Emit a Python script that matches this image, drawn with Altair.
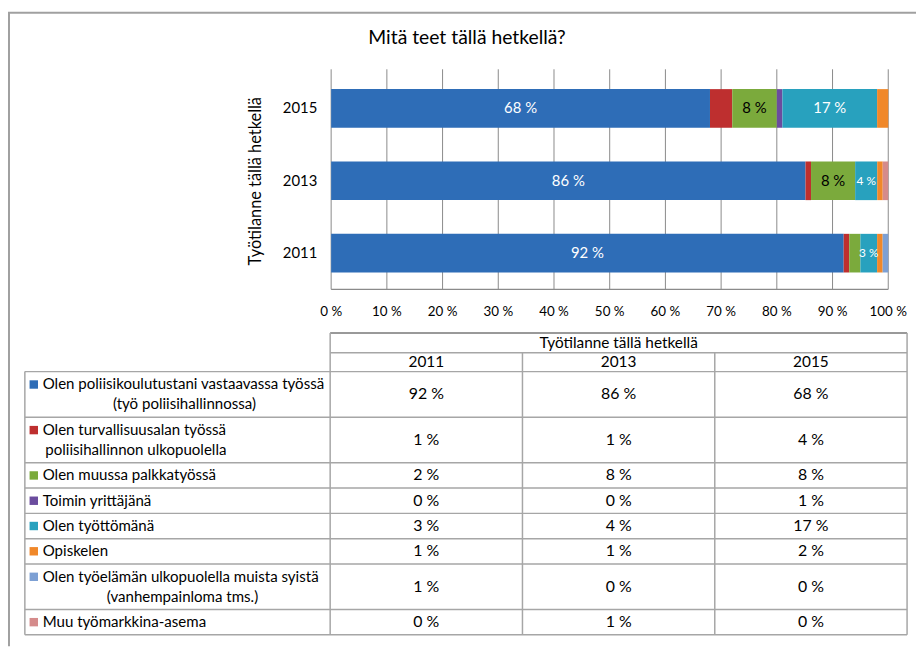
import altair as alt
import pandas as pd

# ---------------- data ----------------
TITLE = "Mitä teet tällä hetkellä?"
AXIS_TITLE = "Työtilanne tällä hetkellä"
YEARS = ["2011", "2013", "2015"]
BAR_ORDER = ["2015", "2013", "2011"]
CATEGORY_LINES = [
    ["Olen poliisikoulutustani vastaavassa työssä", "(työ poliisihallinnossa)"],
    ["Olen turvallisuusalan työssä", "poliisihallinnon ulkopuolella"],
    ["Olen muussa palkkatyössä"],
    ["Toimin yrittäjänä"],
    ["Olen työttömänä"],
    ["Opiskelen"],
    ["Olen työelämän ulkopuolella muista syistä", "(vanhempainloma tms.)"],
    ["Muu työmarkkina-asema"],
]
VALUES_2011 = [92, 1, 2, 0, 3, 1, 1, 0]
VALUES_2013 = [86, 1, 8, 0, 4, 1, 0, 1]
VALUES_2015 = [68, 4, 8, 1, 17, 2, 0, 0]
COLORS = ["#2E6DB7", "#BE2F2F", "#7BAA3C", "#6B4C9E",
          "#28A1BE", "#F0882A", "#7DA0D4", "#D58B8B"]
X_TICKS = [0, 0.1, 0.2, 0.3, 0.4, 0.5, 0.6, 0.7, 0.8, 0.9, 1.0]
X_TICK_LABELS = ["0 %", "10 %", "20 %", "30 %", "40 %", "50 %",
                 "60 %", "70 %", "80 %", "90 %", "100 %"]
LABEL_TEXT_COLOR = {0: "white", 2: "black", 4: "white"}
MIN_LABEL = 3

# ---------------- layout (view pixels = page - 8) ----------------
FONT = "Lato"
W, H = 916, 641


def v(p):
    return p - 8


BAR_X = [v(334), v(896)]
BAR_Y = [v(70), v(289)]
GRID_Y = [v(67), v(289)]
COL_EDGES = [v(25), v(333), v(527), v(721), v(915)]
HEAD_Y = [v(333), v(353), v(372)]
ROW_H = {1: 25.5, 2: 46}
LINE_GAP = 20
TEXT_LEFT = v(43)
SQUARE_X = v(34)
SECOND_LINE_CENTER = {0: v(186), 1: v(137), 6: v(184)}
GRID_COLOR = "#8a8a8a"
TABLE_COLOR = "#a6a6a6"

xs = alt.Scale(domain=[0, 1], range=BAR_X)
ys = alt.Scale(domain=BAR_ORDER, range=BAR_Y, paddingInner=0.466, paddingOuter=0.233)

# ---------------- bars ----------------
series = {"2011": VALUES_2011, "2013": VALUES_2013, "2015": VALUES_2015}
rows = []
for year in YEARS:
    vals = series[year]
    total = float(sum(vals))
    cum = 0.0
    for ci, val in enumerate(vals):
        start = cum / total
        cum += val
        end = cum / total
        rows.append(dict(year=year, cat=ci, value=val, start=start, end=end,
                         mid=(start + end) / 2, color=COLORS[ci]))
bars_df = pd.DataFrame(rows)

lab_df = bars_df[bars_df["cat"].isin(list(LABEL_TEXT_COLOR)) & (bars_df["value"] >= MIN_LABEL)].copy()
lab_df["txt"] = lab_df["value"].astype(str) + " %"
lab_df["tcolor"] = lab_df["cat"].map(LABEL_TEXT_COLOR)
lab_df["fs"] = lab_df["value"].apply(lambda x: 15 if x >= 8 else 12)

grid_df = pd.DataFrame({"t": X_TICKS, "lab": X_TICK_LABELS})

grid = alt.Chart(grid_df).mark_rule(color=GRID_COLOR, strokeWidth=1).encode(
    x=alt.X("t:Q", scale=xs, axis=None),
    y=alt.value(GRID_Y[0]), y2=alt.value(GRID_Y[1]))

axis_line = alt.Chart(pd.DataFrame({"a": [0.0], "b": [1.0]})).mark_rule(
    color=GRID_COLOR, strokeWidth=1.2).encode(
    x=alt.X("a:Q", scale=xs, axis=None), x2="b:Q", y=alt.value(GRID_Y[1]))

bars = alt.Chart(bars_df).mark_bar().encode(
    x=alt.X("start:Q", scale=xs, axis=None),
    x2="end:Q",
    y=alt.Y("year:N", scale=ys, axis=None),
    color=alt.Color("color:N", scale=None))

bar_labels = alt.Chart(lab_df).mark_text(font=FONT, baseline="middle").encode(
    x=alt.X("mid:Q", scale=xs, axis=None),
    y=alt.Y("year:N", scale=ys, axis=None),
    text="txt:N",
    color=alt.Color("tcolor:N", scale=None),
    size=alt.Size("fs:Q", scale=None))

tick_labels = alt.Chart(grid_df).mark_text(font=FONT, fontSize=13.5, baseline="middle", color="black").encode(
    x=alt.X("t:Q", scale=xs, axis=None), y=alt.value(v(312)), text="lab:N")

year_labels = alt.Chart(pd.DataFrame({"year": BAR_ORDER})).mark_text(
    font=FONT, fontSize=15, align="right", baseline="middle", color="black").encode(
    x=alt.value(v(320)), y=alt.Y("year:N", scale=ys, axis=None), text="year:N")

y_title = alt.Chart(pd.DataFrame({"t": [AXIS_TITLE]})).mark_text(
    font=FONT, fontSize=16.5, angle=270, baseline="middle", color="black").encode(
    x=alt.value(v(258)), y=alt.value(v(180)), text="t:N")

title = alt.Chart(pd.DataFrame({"t": [TITLE]})).mark_text(
    font=FONT, fontSize=19.5, baseline="middle", color="black").encode(
    x=alt.value(v(471)), y=alt.value(v(35)), text="t:N")

# ---------------- table ----------------
row_tops = [HEAD_Y[2]]
for lines in CATEGORY_LINES:
    row_tops.append(row_tops[-1] + ROW_H[len(lines)])
table_bottom = row_tops[-1]

seg = []
seg.append(dict(x=COL_EDGES[1], x2=COL_EDGES[4], y=HEAD_Y[0], y2=HEAD_Y[0], w=2, c="#999999"))
seg.append(dict(x=COL_EDGES[1], x2=COL_EDGES[4], y=HEAD_Y[1], y2=HEAD_Y[1], w=1.5, c=TABLE_COLOR))
for yy in row_tops:
    seg.append(dict(x=COL_EDGES[0], x2=COL_EDGES[4], y=yy, y2=yy, w=1.5, c=TABLE_COLOR))
seg.append(dict(x=COL_EDGES[0], x2=COL_EDGES[0], y=HEAD_Y[2], y2=table_bottom, w=1.5, c=TABLE_COLOR))
seg.append(dict(x=COL_EDGES[1], x2=COL_EDGES[1], y=HEAD_Y[0], y2=table_bottom, w=1.5, c=TABLE_COLOR))
seg.append(dict(x=COL_EDGES[2], x2=COL_EDGES[2], y=HEAD_Y[1], y2=table_bottom, w=1.5, c=TABLE_COLOR))
seg.append(dict(x=COL_EDGES[3], x2=COL_EDGES[3], y=HEAD_Y[1], y2=table_bottom, w=1.5, c=TABLE_COLOR))
seg.append(dict(x=COL_EDGES[4], x2=COL_EDGES[4], y=HEAD_Y[0], y2=table_bottom, w=1.5, c=TABLE_COLOR))
# outer chart frame (top and left edges)
seg.append(dict(x=0, x2=W, y=v(10), y2=v(10), w=2, c="#a0a0a0"))
seg.append(dict(x=1, x2=1, y=v(10), y2=H, w=2, c="#a0a0a0"))
seg_df = pd.DataFrame(seg)

table_rules = alt.Chart(seg_df).mark_rule().encode(
    x=alt.X("x:Q", scale=None), x2="x2:Q",
    y=alt.Y("y:Q", scale=None), y2="y2:Q",
    color=alt.Color("c:N", scale=None),
    strokeWidth=alt.StrokeWidth("w:Q", scale=None))

left_rows, center_rows, sq_rows, val_rows = [], [], [], []
for ri, lines in enumerate(CATEGORY_LINES):
    top, bot = row_tops[ri], row_tops[ri + 1]
    cy = (top + bot) / 2
    n = len(lines)
    for li, line in enumerate(lines):
        ly = cy + (li - (n - 1) / 2) * LINE_GAP
        if li == 0:
            left_rows.append(dict(x=TEXT_LEFT, y=ly, t=line))
            sq_rows.append(dict(x=SQUARE_X, y=ly, c=COLORS[ri]))
        else:
            center_rows.append(dict(x=SECOND_LINE_CENTER[ri], y=ly, t=line))
    for ci, year in enumerate(YEARS):
        val_rows.append(dict(x=(COL_EDGES[ci + 1] + COL_EDGES[ci + 2]) / 2, y=cy,
                             t=f"{series[year][ri]} %"))

head_rows = [dict(x=(COL_EDGES[1] + COL_EDGES[4]) / 2, y=(HEAD_Y[0] + HEAD_Y[1]) / 2, t=AXIS_TITLE)]
for ci, year in enumerate(YEARS):
    head_rows.append(dict(x=(COL_EDGES[ci + 1] + COL_EDGES[ci + 2]) / 2,
                          y=(HEAD_Y[1] + HEAD_Y[2]) / 2, t=year))


def text_layer(rws, align, size):
    return alt.Chart(pd.DataFrame(rws)).mark_text(
        font=FONT, fontSize=size, align=align, baseline="middle", color="black").encode(
        x=alt.X("x:Q", scale=None), y=alt.Y("y:Q", scale=None), text="t:N")


squares = alt.Chart(pd.DataFrame(sq_rows)).mark_square(size=72, opacity=1).encode(
    x=alt.X("x:Q", scale=None), y=alt.Y("y:Q", scale=None),
    color=alt.Color("c:N", scale=None))

chart = alt.layer(
    grid, axis_line, bars, bar_labels, tick_labels, year_labels, y_title, title,
    table_rules, squares,
    text_layer(left_rows, "left", 15.2), text_layer(center_rows, "center", 15.2),
    text_layer(val_rows, "center", 16), text_layer(head_rows, "center", 15.5),
).properties(width=W, height=H, padding=0, autosize="none").configure_view(strokeWidth=0)

chart.save("out.html", embed_options={"renderer": "svg", "actions": False})
